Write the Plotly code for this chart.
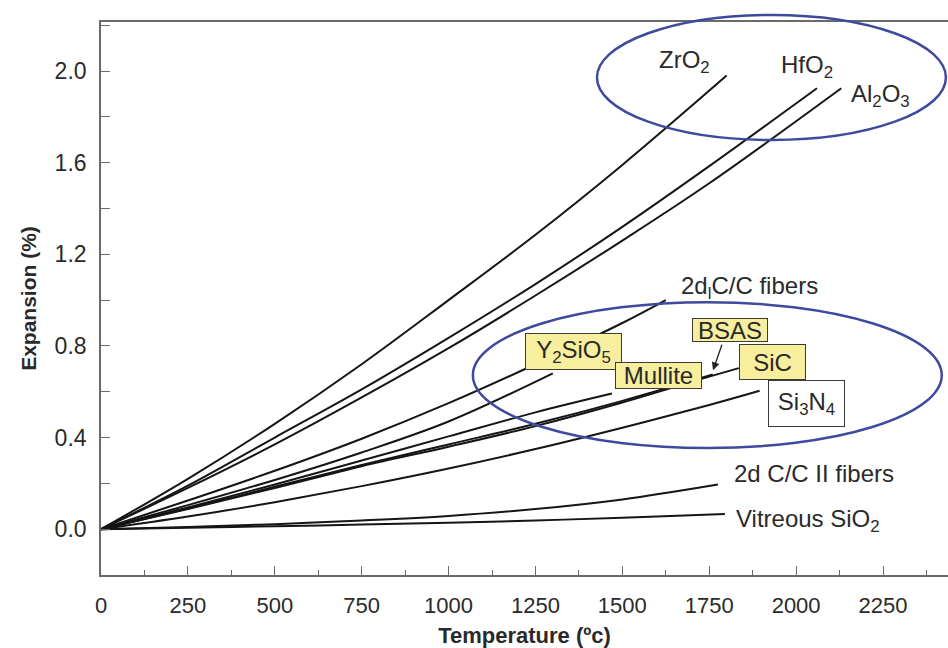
import plotly.graph_objects as go

# ---- data ----
T_zro2 = [0, 250, 500, 750, 1000, 1250, 1500, 1800]
V_zro2 = [0, 0.22, 0.46, 0.72, 1.00, 1.285, 1.59, 1.98]

T_hfo2 = [0, 250, 500, 750, 1000, 1250, 1500, 1750, 2060]
V_hfo2 = [0, 0.19, 0.40, 0.61, 0.835, 1.07, 1.32, 1.585, 1.925]

T_al2o3 = [0, 250, 500, 750, 1000, 1250, 1500, 1750, 2130]
V_al2o3 = [0, 0.18, 0.37, 0.575, 0.79, 1.02, 1.26, 1.51, 1.925]

T_cc1 = [0, 250, 500, 750, 1000, 1250, 1500, 1625]
V_cc1 = [0, 0.125, 0.255, 0.395, 0.55, 0.72, 0.90, 1.00]

T_y2sio5 = [0, 250, 500, 750, 1000, 1300]
V_y2sio5 = [0, 0.105, 0.215, 0.335, 0.47, 0.68]

T_mullite = [0, 250, 500, 750, 1000, 1250, 1470]
V_mullite = [0, 0.095, 0.195, 0.30, 0.405, 0.51, 0.592]

T_bsas = [0, 250, 500, 750, 1000, 1250, 1500, 1760]
V_bsas = [0, 0.09, 0.185, 0.28, 0.37, 0.46, 0.56, 0.675]

T_sic = [0, 250, 500, 750, 1000, 1250, 1500, 1750, 1835]
V_sic = [0, 0.088, 0.18, 0.275, 0.36, 0.45, 0.553, 0.666, 0.703]

T_si3n4 = [0, 250, 500, 750, 1000, 1250, 1500, 1750, 1895]
V_si3n4 = [0, 0.055, 0.118, 0.188, 0.265, 0.35, 0.443, 0.542, 0.604]

T_cc2 = [0, 250, 500, 750, 1000, 1250, 1500, 1775]
V_cc2 = [0, 0.01, 0.022, 0.038, 0.058, 0.088, 0.13, 0.195]

T_sio2 = [0, 250, 500, 750, 1000, 1250, 1500, 1795]
V_sio2 = [0, 0.006, 0.013, 0.02, 0.028, 0.038, 0.05, 0.066]

x_ticks = [0, 250, 500, 750, 1000, 1250, 1500, 1750, 2000, 2250]
y_ticks = [0.0, 0.4, 0.8, 1.2, 1.6, 2.0]

X_RANGE = [0, 2437]
Y_RANGE = [-0.2, 2.214]

series = [
    (T_zro2, V_zro2), (T_hfo2, V_hfo2), (T_al2o3, V_al2o3), (T_cc1, V_cc1),
    (T_y2sio5, V_y2sio5), (T_mullite, V_mullite), (T_bsas, V_bsas),
    (T_sic, V_sic), (T_si3n4, V_si3n4), (T_cc2, V_cc2), (T_sio2, V_sio2),
]

fig = go.Figure()
for t, v in series:
    fig.add_trace(go.Scatter(x=t, y=v, mode="lines",
                             line=dict(color="#151515", width=2, shape="spline", smoothing=1.0),
                             showlegend=False, hoverinfo="skip"))

LBL = "Liberation Sans, Arial, sans-serif"
AXC = "#6a6a6a"
TXT = "#2a2a2a"

# ellipses (given in data units, converted to paper so they are not clipped)
def to_paper(tx, vy):
    return ((tx - X_RANGE[0]) / (X_RANGE[1] - X_RANGE[0]), (vy - Y_RANGE[0]) / (Y_RANGE[1] - Y_RANGE[0]))

ellipses = [((1427, 1.699), (2431, 2.245)), ((1070, 0.354), (2419, 0.991))]
for (a, b) in ellipses:
    p0 = to_paper(*a)
    p1 = to_paper(*b)
    fig.add_shape(type="circle", xref="paper", yref="paper", x0=p0[0], y0=p0[1], x1=p1[0], y1=p1[1],
                  line=dict(color="#3d4a9e", width=2.5), layer="above")

plain_labels = [
    ("ZrO<sub>2</sub>", 1600, 2.04),
    ("HfO<sub>2</sub>", 1950, 2.02),
    ("Al<sub>2</sub>O<sub>3</sub>", 2152, 1.895),
    ("2d<sub>l</sub>C/C fibers", 1664, 1.055),
    ("2d C/C II fibers", 1816, 0.245),
    ("Vitreous SiO<sub>2</sub>", 1822, 0.04),
]
for txt, x, y in plain_labels:
    fig.add_annotation(x=x, y=y, xref="x", yref="y", text=txt, showarrow=False, xanchor="left", yanchor="middle",
                       font=dict(family=LBL, size=24, color=TXT))

# boxed labels: text, center T, center v, width px, height px, fill
boxed = [
    ("Y<sub>2</sub>SiO<sub>5</sub>", 1359, 0.774, 95, 35, "#f7ee9e"),
    ("Mullite", 1603, 0.672, 85, 25, "#f7ee9e"),
    ("BSAS", 1810, 0.869, 74, 22, "#f7ee9e"),
    ("SiC", 1933, 0.729, 65, 34, "#f7ee9e"),
    ("Si<sub>3</sub>N<sub>4</sub>", 2030, 0.549, 75, 45, "#ffffff"),
]
for txt, x, y, w, h, fill in boxed:
    fig.add_annotation(x=x, y=y, xref="x", yref="y", text=txt, showarrow=False, xanchor="center", yanchor="middle",
                       width=w, height=h, borderpad=0, borderwidth=1, bordercolor="#3a3a3a", bgcolor=fill,
                       font=dict(family=LBL, size=24, color=TXT))

# BSAS arrow
fig.add_annotation(x=1761, y=0.694, ax=1788, ay=0.812, xref="x", yref="y", axref="x", ayref="y", text="",
                   showarrow=True, arrowhead=2, arrowsize=1.2, arrowwidth=1.3, arrowcolor="#222")

fig.update_layout(
    width=948, height=648, autosize=False,
    margin=dict(l=101, r=0, t=22, b=73),
    plot_bgcolor="white", paper_bgcolor="white",
    xaxis=dict(range=X_RANGE, tickvals=x_ticks, ticktext=[str(v) for v in x_ticks],
               ticks="inside", ticklen=9, tickwidth=1.3, tickcolor=AXC,
               minor=dict(dtick=125, tick0=0, ticks="inside", ticklen=5, tickwidth=1.3, tickcolor=AXC),
               showline=True, linecolor=AXC, linewidth=1.6, mirror=True, showgrid=False, zeroline=False,
               tickfont=dict(family=LBL, size=22, color=TXT), ticklabelstandoff=10,
               title=dict(text="<b>Temperature (ºc)</b>", font=dict(family=LBL, size=22, color=TXT), standoff=10)),
    yaxis=dict(range=Y_RANGE, tickvals=y_ticks, ticktext=["%.1f" % v for v in y_ticks],
               ticks="inside", ticklen=9, tickwidth=1.3, tickcolor=AXC,
               minor=dict(dtick=0.2, tick0=0, ticks="inside", ticklen=9, tickwidth=1.3, tickcolor=AXC),
               showline=True, linecolor=AXC, linewidth=1.6, mirror=False, showgrid=False, zeroline=False,
               tickfont=dict(family=LBL, size=23, color=TXT), ticklabelstandoff=8,
               title=dict(text="<b>Expansion (%)</b>", font=dict(family=LBL, size=21, color=TXT), standoff=12)),
)

fig.write_html("out.html")
